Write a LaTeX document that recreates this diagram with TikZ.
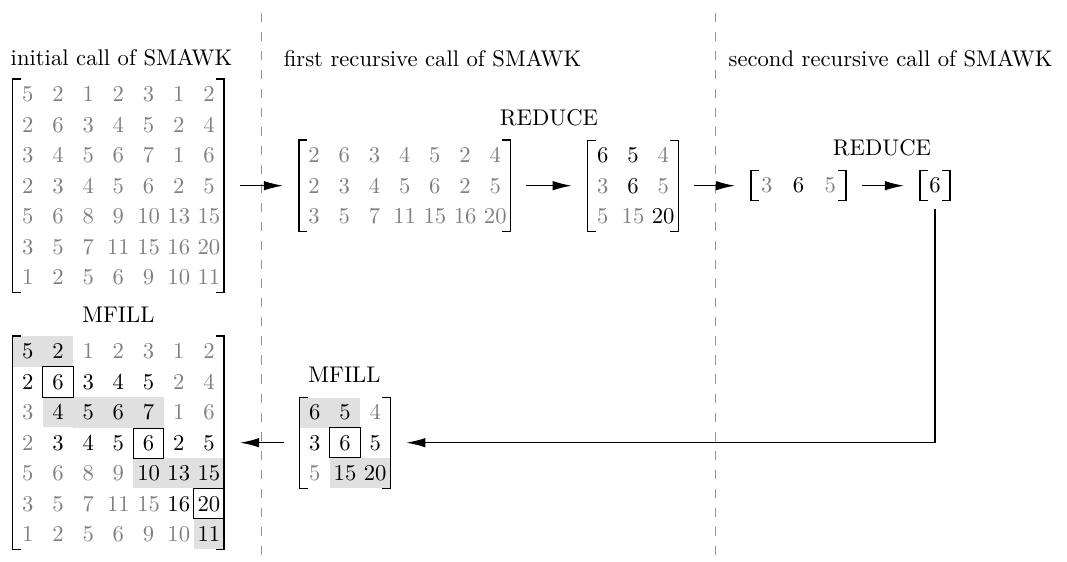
\documentclass[tikz,border=0pt]{standalone}
\usetikzlibrary{matrix,arrows.meta}
\newcommand\mbrk[1]{%
  \draw[brk] ([xshift=3.5pt]#1.north west) -- (#1.north west) -- (#1.south west) -- ([xshift=3.5pt]#1.south west);
  \draw[brk] ([xshift=-3.5pt]#1.north east) -- (#1.north east) -- (#1.south east) -- ([xshift=-3.5pt]#1.south east);}
\begin{document}
\begin{tikzpicture}[x=0.4415pt,y=-0.4415pt,
  cell/.style={text=black!50,minimum width=13.33pt,minimum height=13.33pt,inner sep=0pt,outer sep=0pt},
  bk/.style={text=black},
  sh/.style={fill=black!12},
  mat/.style={matrix of nodes,nodes={cell},column sep=0pt,row sep=0pt,inner sep=0pt,outer sep=0pt},
  brk/.style={line width=0.55pt},
  bx/.style={draw,line width=0.45pt},
  sep/.style={draw=black!42,line width=0.5pt,dash pattern=on 4pt off 4.4pt},
  arr/.style={line width=0.6pt,-{Latex[length=8.5pt,width=4.2pt]},shorten <=7pt,shorten >=7pt},
  ttl/.style={inner sep=0pt}]
\useasboundingbox (0,0) rectangle (1067,562);

\draw[sep] (261.7,13) -- (261.7,562);
\draw[sep] (715.7,13) -- (715.7,562);

\node[ttl] (t1) at (121.5,58) {initial call of SMAWK};
\node[ttl] (t2) at (432.5,59) {first recursive call of SMAWK};
\node[ttl] (t3) at (890.5,59) {second recursive call of SMAWK};

\matrix (A) [mat] at (118.4,185.7) {
5 & 2 & 1 & 2 & 3 & 1 & 2 \\
2 & 6 & 3 & 4 & 5 & 2 & 4 \\
3 & 4 & 5 & 6 & 7 & 1 & 6 \\
2 & 3 & 4 & 5 & 6 & 2 & 5 \\
5 & 6 & 8 & 9 & 10 & 13 & 15 \\
3 & 5 & 7 & 11 & 15 & 16 & 20 \\
1 & 2 & 5 & 6 & 9 & 10 & 11 \\
};
\mbrk{A}

\matrix (B) [mat] at (404.7,185.7) {
2 & 6 & 3 & 4 & 5 & 2 & 4 \\
2 & 3 & 4 & 5 & 6 & 2 & 5 \\
3 & 5 & 7 & 11 & 15 & 16 & 20 \\
};
\mbrk{B}

\matrix (C) [mat] at (633,185.7) {
|[bk]|6 & |[bk]|5 & 4 \\
3 & |[bk]|6 & 5 \\
5 & 15 & |[bk]|20 \\
};
\mbrk{C}

\matrix (D) [mat,nodes={cell,minimum width=14pt}] at (798.5,185.7) {
3 & |[bk]|6 & 5 \\
};
\mbrk{D}

\matrix (E) [mat] at (935,185.7) {
|[bk]|6 \\
};
\mbrk{E}

\matrix (F) [mat] at (345,442.7) {
|[bk,sh]|6 & |[bk,sh]|5 & 4 \\
|[bk]|3 & |[bk]|6 & |[bk]|5 \\
5 & |[bk,sh]|15 & |[bk,sh]|20 \\
};
\mbrk{F}
\draw[bx] (F-2-2.south west) rectangle (F-2-2.north east);

\matrix (G) [mat] at (118.4,442.7) {
|[bk,sh]|5 & |[bk,sh]|2 & 1 & 2 & 3 & 1 & 2 \\
|[bk]|2 & |[bk]|6 & |[bk]|3 & |[bk]|4 & |[bk]|5 & 2 & 4 \\
3 & |[bk,sh]|4 & |[bk,sh]|5 & |[bk,sh]|6 & |[bk,sh]|7 & 1 & 6 \\
2 & |[bk]|3 & |[bk]|4 & |[bk]|5 & |[bk]|6 & |[bk]|2 & |[bk]|5 \\
5 & 6 & 8 & 9 & |[bk,sh]|10 & |[bk,sh]|13 & |[bk,sh]|15 \\
3 & 5 & 7 & 11 & 15 & |[bk]|16 & |[bk]|20 \\
1 & 2 & 5 & 6 & 9 & 10 & |[bk,sh]|11 \\
};
\mbrk{G}
\draw[bx] (G-2-2.south west) rectangle (G-2-2.north east);
\draw[bx] (G-4-5.south west) rectangle (G-4-5.north east);
\draw[bx] (G-6-7.south west) rectangle (G-6-7.north east);

\node[ttl] (l1) at (549,118) {REDUCE};
\node[ttl] (l2) at (882,148) {REDUCE};
\node[ttl] (l3) at (118.4,315) {MFILL};
\node[ttl] (l4) at (344.5,375) {MFILL};

\draw[arr] (A.east) -- (B.west);
\draw[arr] (B.east) -- (C.west);
\draw[arr] (C.east) -- (D.west);
\draw[arr] (D.east) -- (E.west);
\draw[arr,shorten <=3.5pt] (E.south) |- (F.east);
\draw[arr] (F.west) -- (G.east);
\end{tikzpicture}
\end{document}
